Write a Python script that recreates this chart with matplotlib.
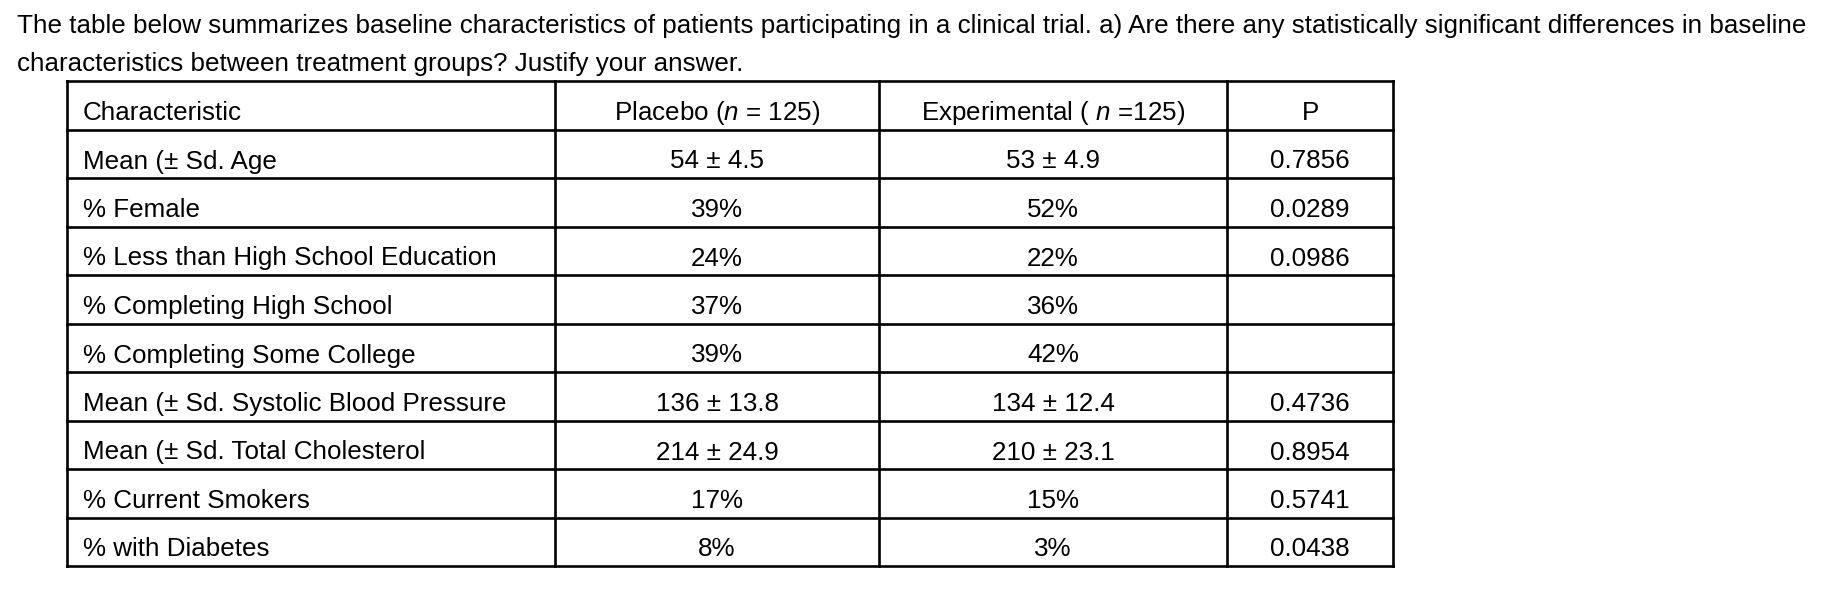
import matplotlib
matplotlib.use("Agg")
import matplotlib.pyplot as plt

plt.rcParams['font.family'] = ['Liberation Sans', 'DejaVu Sans']
plt.rcParams['mathtext.fontset'] = 'custom'
plt.rcParams['mathtext.rm'] = 'Liberation Sans'
plt.rcParams['mathtext.it'] = 'Liberation Sans:italic'

question = [
    "The table below summarizes baseline characteristics of patients participating in a clinical trial. "
    "a) Are there any statistically significant differences in baseline",
    "characteristics between treatment groups? Justify your answer.",
]

headers = ["Characteristic", "Placebo ($n$ = 125)", "Experimental ( $n$ =125)", "P"]
characteristics = [
    "Mean (± Sd. Age",
    "% Female",
    "% Less than High School Education",
    "% Completing High School",
    "% Completing Some College",
    "Mean (± Sd. Systolic Blood Pressure",
    "Mean (± Sd. Total Cholesterol",
    "% Current Smokers",
    "% with Diabetes",
]
placebo = ["54 ± 4.5", "39%", "24%", "37%", "39%", "136 ± 13.8", "214 ± 24.9", "17%", "8%"]
experimental = ["53 ± 4.9", "52%", "22%", "36%", "42%", "134 ± 12.4", "210 ± 23.1", "15%", "3%"]
p_values = ["0.7856", "0.0289", "0.0986", "", "", "0.4736", "0.8954", "0.5741", "0.0438"]

W, H = 1822, 610
fig = plt.figure(figsize=(W / 100, H / 100), dpi=100)
ax = fig.add_axes([0, 0, 1, 1])
ax.set_xlim(0, W)
ax.set_ylim(H, 0)
ax.axis('off')

fs = 18.7

# question text
for i, line in enumerate(question):
    ax.text(17, 32.5 + i * 38.5, line, fontsize=fs, ha='left', va='baseline')

# table layout
col_edges = [67, 555, 879, 1227, 1393]
top, row_h = 81, 48.5
rows = [headers] + [list(r) for r in zip(characteristics, placebo, experimental, p_values)]
bottom = top + row_h * len(rows)

lw = 1.9
for i in range(len(rows) + 1):
    ax.plot([col_edges[0], col_edges[-1]], [top + i * row_h] * 2, color='black', lw=lw,
            solid_capstyle='projecting')
for x in col_edges:
    ax.plot([x, x], [top, bottom], color='black', lw=lw, solid_capstyle='projecting')

for i, row in enumerate(rows):
    y = top + i * row_h + 39
    for j, txt in enumerate(row):
        if j == 0:
            ax.text(col_edges[0] + 16, y, txt, fontsize=fs, ha='left', va='baseline')
        else:
            xc = (col_edges[j] + col_edges[j + 1]) / 2
            ax.text(xc, y, txt, fontsize=fs, ha='center', va='baseline')

fig.savefig("out.png", dpi=100)
